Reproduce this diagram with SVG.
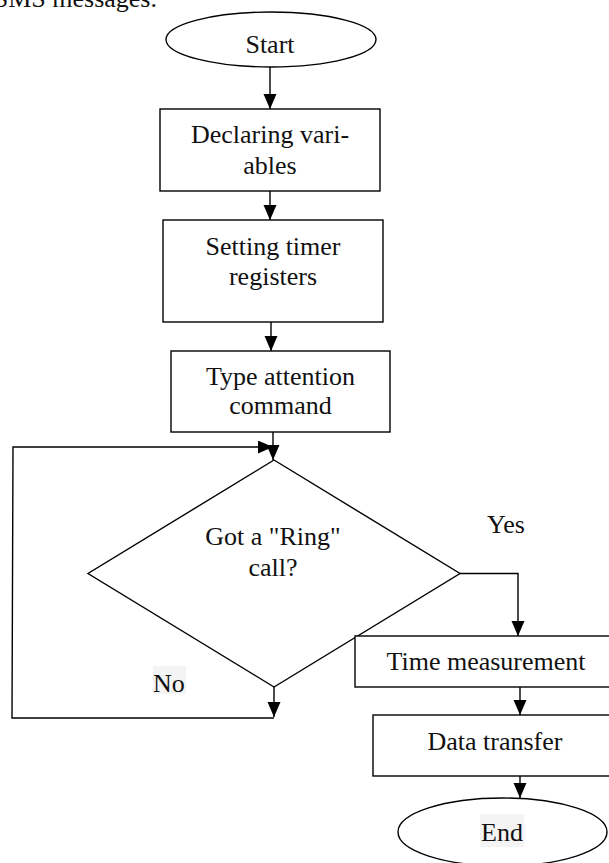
<svg xmlns="http://www.w3.org/2000/svg" width="609" height="863" viewBox="0 0 609 863">
<style>
.s{fill:#fff;stroke:#000;stroke-width:1.4}
.c{fill:none;stroke:#000;stroke-width:1.4}
text{font-family:"Liberation Serif","Times New Roman",serif;font-size:26px;fill:#111}
.m{text-anchor:middle}
.bg{fill:#f4f4f4}
</style>
<defs>
<marker id="ah" markerUnits="userSpaceOnUse" markerWidth="16" markerHeight="14" refX="15" refY="6.5" orient="auto">
<path d="M0,0 L15,6.5 L0,13 z" fill="#000"/>
</marker>
</defs>
<rect width="609" height="863" fill="#fff"/>
<text x="157" y="7" text-anchor="end">SMS messages.</text>
<g id="start">
<ellipse class="s" cx="271" cy="39.5" rx="105" ry="27.5"/>
<text class="m" x="270" y="53">Start</text>
</g>
<g id="declare">
<rect class="s" x="160" y="109" width="220" height="82"/>
<text class="m" x="270" y="143">Declaring vari-</text>
<text class="m" x="270" y="174">ables</text>
</g>
<g id="timer">
<rect class="s" x="163" y="220" width="220" height="102"/>
<text class="m" x="273" y="255">Setting timer</text>
<text class="m" x="273" y="285">registers</text>
</g>
<g id="attention">
<rect class="s" x="171" y="351" width="219" height="81"/>
<text class="m" x="280.5" y="385">Type attention</text>
<text class="m" x="280.5" y="414">command</text>
</g>
<g id="ring">
<polygon class="s" points="274,460 460,573.5 274,687 88,573.5"/>
<text class="m" x="273" y="545">Got a "Ring"</text>
<text class="m" x="273" y="576">call?</text>
</g>
<g id="measure">
<rect class="s" x="355" y="636" width="262" height="51"/>
<text class="m" x="486" y="670">Time measurement</text>
</g>
<g id="transfer">
<rect class="s" x="373" y="715" width="245" height="61"/>
<text class="m" x="495" y="750">Data transfer</text>
</g>
<g id="end">
<ellipse class="s" cx="502.5" cy="832" rx="104.5" ry="34"/>
<rect class="bg" x="480" y="814" width="44" height="33"/>
<text class="m" x="502" y="841">End</text>
</g>
<g id="connectors">
<line class="c" x1="270" y1="67" x2="270" y2="109" marker-end="url(#ah)"/>
<line class="c" x1="270" y1="191" x2="270" y2="220" marker-end="url(#ah)"/>
<line class="c" x1="271" y1="322" x2="271" y2="351" marker-end="url(#ah)"/>
<line class="c" x1="273" y1="432" x2="273" y2="460" marker-end="url(#ah)"/>
<polyline class="c" points="460,573.5 518,573.5 518,636" marker-end="url(#ah)"/>
<line class="c" x1="520" y1="687" x2="520" y2="715" marker-end="url(#ah)"/>
<line class="c" x1="520" y1="776" x2="520" y2="798" marker-end="url(#ah)"/>
<line class="c" x1="274" y1="687" x2="274" y2="717" marker-end="url(#ah)"/>
<polyline class="c" points="274,718 12,718 13,447 273,447" marker-end="url(#ah)"/>
<text x="487" y="533">Yes</text>
<rect class="bg" x="153" y="666" width="33" height="28"/>
<text x="153" y="692">No</text>
</g>
</svg>
